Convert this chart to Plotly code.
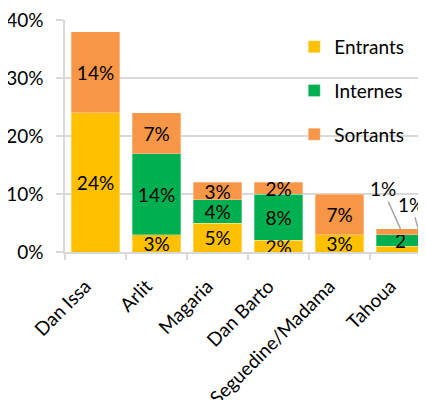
import plotly.graph_objects as go

categories = ["Dan Issa", "Arlit", "Magaria", "Dan Barto", "Seguedine/Madama", "Tahoua"]
entrants = [24, 3, 5, 2, 3, 1]
internes = [0, 14, 4, 8, 0, 2]
sortants = [14, 7, 3, 2, 7, 1]
y_ticks = [0, 10, 20, 30, 40]

colors = {"Entrants": "#FFC000", "Internes": "#00B050", "Sortants": "#F79646"}
FONT = "Lato, 'Open Sans', sans-serif"

# labels moved outside with leader lines (Tahoua small segments)
callout_idx = 5

def labels(vals, series):
    out = []
    for i, v in enumerate(vals):
        if v == 0:
            out.append("")
        elif i == callout_idx and series in ("Entrants", "Sortants"):
            out.append("")
        elif i == callout_idx:
            out.append(f"{v}")  # truncated label in the original
        else:
            out.append(f"{v}%")
    return out

fig = go.Figure()
for name, vals in [("Entrants", entrants), ("Internes", internes), ("Sortants", sortants)]:
    fig.add_trace(go.Bar(
        name=name, x=categories, y=vals, legendgroup=name,
        marker=dict(color=colors[name], line=dict(color="rgba(255,255,255,0.6)", width=0.5)),
        text=labels(vals, name), textposition="inside", insidetextanchor="middle",
        textangle=0, textfont=dict(size=19, color="black", family=FONT),
        cliponaxis=False, hoverinfo="skip",
    ))

# callouts for Tahoua
tot = [e + i + s for e, i, s in zip(entrants, internes, sortants)]
fig.add_annotation(x=categories[callout_idx], y=tot[callout_idx], text=f"{sortants[callout_idx]}%",
                   showarrow=True, arrowhead=0, arrowwidth=1.5, arrowcolor="#A6A6A6",
                   ax=-18, ay=-40, font=dict(size=19, color="black", family=FONT))
fig.add_annotation(x=callout_idx + 0.39, y=entrants[callout_idx] * 0.3, text=f"{entrants[callout_idx]}%",
                   showarrow=True, arrowhead=0, arrowwidth=1.5, arrowcolor="#A6A6A6",
                   ax=-13, ay=-46, font=dict(size=19, color="black", family=FONT))

fig.update_layout(
    width=418, height=392, barmode="stack", bargap=0.21,
    margin=dict(l=57, r=0, t=12, b=148, autoexpand=False),
    paper_bgcolor="white", plot_bgcolor="white",
    font=dict(family=FONT, size=19, color="black"),
    uniformtext=dict(minsize=19, mode="show"),
    legend=dict(x=0.635, y=0.966, xanchor="left", yanchor="top", bgcolor="rgba(0,0,0,0)",
                traceorder="grouped", tracegroupgap=16, font=dict(size=19, family=FONT)),
    showlegend=True,
)
fig.update_xaxes(range=[-0.5, 5.418], tickangle=-45, showline=True, linecolor="#D9D9D9", linewidth=1.5,
                 ticks="outside", tickson="boundaries", ticklen=6, tickcolor="#D9D9D9", tickwidth=1.5,
                 ticklabelstandoff=14, ticklabelshift=-10, ticklabeloverflow="allow",
                 showgrid=False, automargin=False, tickfont=dict(size=19, family=FONT))
fig.update_yaxes(range=[0, 40.05], tickvals=y_ticks, ticktext=[f"{t}%" for t in y_ticks],
                 showline=True, linecolor="#D9D9D9", linewidth=1.5, ticks="outside", ticklen=7,
                 tickcolor="#D9D9D9", tickwidth=1.5, showgrid=True, gridcolor="#D9D9D9", gridwidth=1.5,
                 zeroline=False, automargin=False, ticklabelstandoff=9, ticklabeloverflow="allow",
                 tickfont=dict(size=19, family=FONT))

fig.write_html("out.html")
